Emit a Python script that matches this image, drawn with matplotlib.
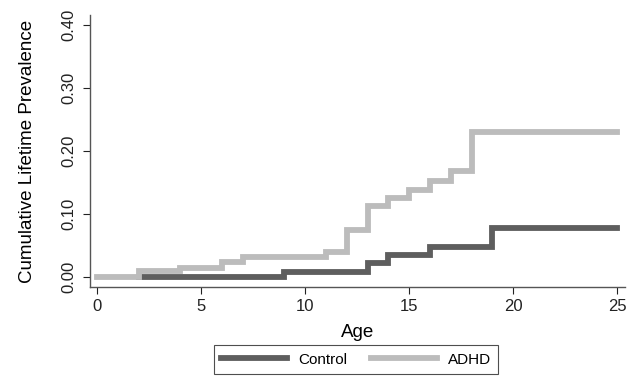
import matplotlib
matplotlib.use("Agg")
import matplotlib.pyplot as plt

plt.rcParams['font.family'] = ['Liberation Sans', 'DejaVu Sans']

# Step-function data (age at which each step begins, cumulative prevalence)
control_age = [2, 9, 13, 14, 16, 19, 25]
control_prev = [0.000, 0.008, 0.022, 0.035, 0.048, 0.078, 0.078]

adhd_age = [0, 2, 4, 6, 7, 11, 12, 13, 14, 15, 16, 17, 18, 25]
adhd_prev = [0.000, 0.010, 0.014, 0.024, 0.032, 0.040, 0.075, 0.113, 0.125,
             0.138, 0.152, 0.168, 0.230, 0.230]

xticks = [0, 5, 10, 15, 20, 25]
yticks = [0.0, 0.1, 0.2, 0.3, 0.4]
ytick_labels = ["0.00", "0.10", "0.20", "0.30", "0.40"]

fig = plt.figure(figsize=(6.27, 3.83), dpi=100)
ax = fig.add_axes([0.1435, 0.2507, 0.8535, 0.7103])

ax.step(control_age, control_prev, where='post', color='#5e5e5e', lw=4.2,
        label='Control', solid_joinstyle='miter')
ax.step(adhd_age, adhd_prev, where='post', color='#bcbcbc', lw=4.2,
        label='ADHD', solid_joinstyle='miter')

ax.set_xlim(-0.34, 25.38)
ax.set_ylim(-0.016, 0.416)
ax.set_xticks(xticks)
ax.set_yticks(yticks)
ax.set_yticklabels(ytick_labels, rotation=90, va='center')
ax.tick_params(axis='both', direction='out', length=5, width=0.8,
               labelsize=12, colors='#222222')
ax.tick_params(axis='y', pad=5)
ax.tick_params(axis='x', pad=4)
for s in ['top', 'right']:
    ax.spines[s].set_visible(False)
for s in ['left', 'bottom']:
    ax.spines[s].set_color('#555555')
    ax.spines[s].set_linewidth(1.0)

ax.set_xlabel('Age', fontsize=13.5, labelpad=7)
ax.set_ylabel('Cumulative Lifetime Prevalence', fontsize=13.5, labelpad=18)

leg = fig.legend(loc='lower center', bbox_to_anchor=(0.568, 0.003), ncol=2,
                 frameon=True, fancybox=False, edgecolor='#222222',
                 fontsize=11, handlelength=4.3, columnspacing=1.6,
                 handletextpad=0.7, borderpad=0.5)
leg.get_frame().set_linewidth(0.8)

fig.savefig('out.png', dpi=100)
